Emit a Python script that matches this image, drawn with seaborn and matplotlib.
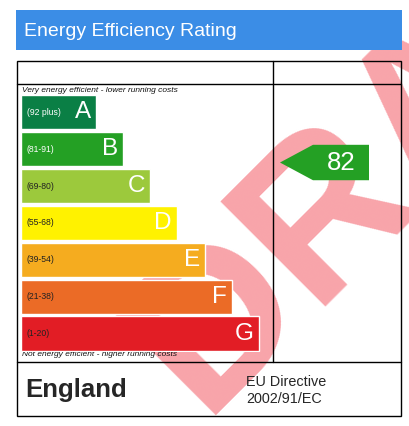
import matplotlib
matplotlib.use("Agg")
import matplotlib.pyplot as plt
import seaborn as sns
import pandas as pd
from matplotlib.patches import Rectangle, Polygon

# band data
bands = ['A', 'B', 'C', 'D', 'E', 'F', 'G']
ranges = ['(92 plus)', '(81-91)', '(69-80)', '(55-68)', '(39-54)', '(21-38)', '(1-20)']
band_lo = [92, 81, 69, 55, 39, 21, 1]
band_hi = [100, 91, 80, 68, 54, 38, 20]
bar_length = [75, 102, 129, 156, 184, 211, 238]
band_colors = ['#0a7f45', '#24a024', '#9cc93c', '#fff200', '#f5ac1f', '#eb6b26', '#e21d25']
range_text_colors = ['white', 'white', '#222222', '#222222', '#222222', '#222222', '#222222']

current_rating = 82

sns.set_style('white')
plt.rcParams['font.family'] = ['Liberation Sans', 'DejaVu Sans']

W, H = 409, 426
fig = plt.figure(figsize=(W / 100, H / 100), dpi=100)

# whole-figure axes in pixel units for the frame, header and texts
ax = fig.add_axes([0, 0, 1, 1])
ax.set_xlim(0, W)
ax.set_ylim(H, 0)
ax.axis('off')

# DRAFT watermark behind everything
ax.text(202, 416, 'DRAFT', rotation=45, rotation_mode='anchor', ha='left', va='baseline',
        fontsize=155, fontweight='bold', color='#f8a4aa', zorder=0)

# header
ax.add_patch(Rectangle((16, 10), 386, 39.7, facecolor='#3b8de6', edgecolor='none', zorder=2))
ax.text(23.5, 35.5, 'Energy Efficiency Rating', color='white', fontsize=14,
        ha='left', va='baseline', zorder=3)

# table frame
lw = 1.0
ax.add_patch(Rectangle((17.3, 61), 383.4, 354.7, fill=False, edgecolor='black', lw=lw, zorder=3))
ax.plot([17.3, 400.7], [84, 84], color='black', lw=lw, zorder=3)
ax.plot([17.3, 400.7], [362.3, 362.3], color='black', lw=lw, zorder=3)
ax.plot([272.7, 272.7], [61, 362.3], color='black', lw=lw, zorder=3)

ax.text(22, 90, 'Very energy efficient - lower running costs', fontsize=6, style='italic',
        ha='left', va='center', color='#111111', zorder=3)
ax.text(22, 355, 'Not energy efficient - higher running costs', fontsize=6, style='italic',
        ha='left', va='center', color='#111111', zorder=3)

ax.text(25, 396.7, 'England', fontsize=18.6, fontweight='bold', ha='left', va='baseline', zorder=3)
ax.text(246, 385.7, 'EU Directive', fontsize=10.4, ha='left', va='baseline', zorder=3)
ax.text(246, 402.7, '2002/91/EC', fontsize=10.4, ha='left', va='baseline', zorder=3)

# bars axes
top_px, pitch = 93.75, 36.9
bottom_px = top_px + 7 * pitch
bax = fig.add_axes([21 / W, 1 - bottom_px / H, (400.7 - 21) / W, (bottom_px - top_px) / H])
bax.patch.set_alpha(0)

df = pd.DataFrame({'band': bands, 'length': bar_length})
sns.barplot(data=df, x='length', y='band', hue='band', palette=band_colors, legend=False,
            orient='h', width=0.932, saturation=1, ax=bax)
bax.set_xlim(0, 400.7 - 21)
bax.set_ylim(6.5, -0.5)
bax.axis('off')

for i, b in enumerate(bands):
    bax.text(bar_length[i] - 5, i, b, color='white', fontsize=17.5, ha='right', va='center')
    bax.text(5.7, i, ranges[i], color=range_text_colors[i], fontsize=6.2, ha='left', va='center')

# current rating arrow
idx = next(i for i in range(len(bands)) if band_lo[i] <= current_rating <= band_hi[i])
yc = idx - 0.5 + (band_hi[idx] - current_rating + 0.5) / (band_hi[idx] - band_lo[idx] + 1)
hh = 0.48
tip_x, body_x0, body_x1 = 259, 292, 348
arrow = Polygon([(tip_x, yc), (body_x0, yc - hh), (body_x1, yc - hh), (body_x1, yc + hh),
                 (body_x0, yc + hh)], closed=True, facecolor=band_colors[idx], edgecolor='none')
bax.add_patch(arrow)
bax.text((body_x0 + body_x1) / 2, yc, str(current_rating), color='white', fontsize=18.5,
         ha='center', va='center')

fig.savefig('out.png', dpi=100)
